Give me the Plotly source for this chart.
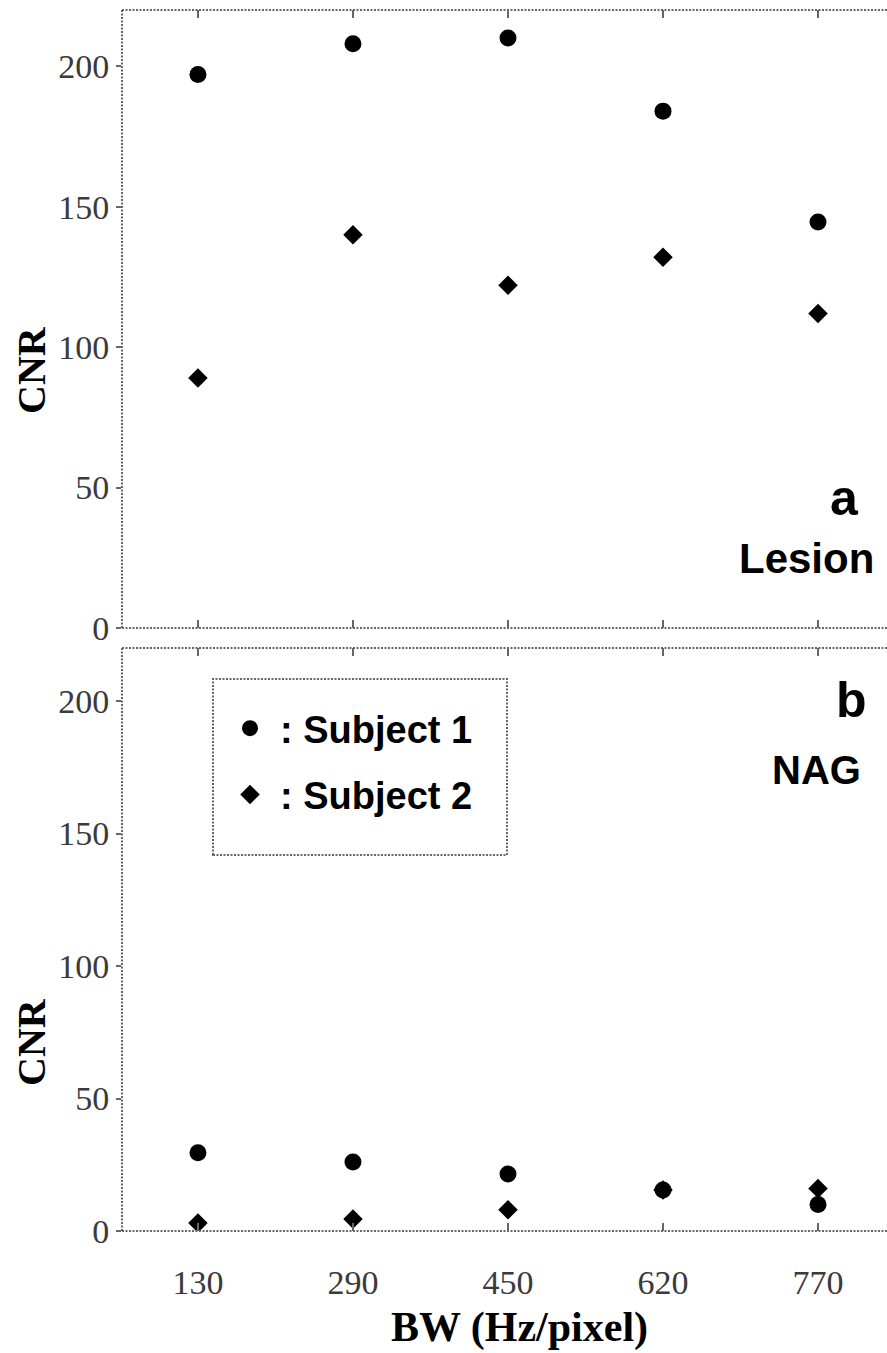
import plotly.graph_objects as go
from plotly.subplots import make_subplots

# ---- data ----
bw_labels = ["130", "290", "450", "620", "770"]
lesion_subject1 = [197, 208, 210, 184, 144.5]
lesion_subject2 = [89, 140, 122, 132, 112]
nag_subject1 = [29.5, 26, 21.5, 15.5, 10]
nag_subject2 = [3, 4.5, 8, 15.5, 16]
y_ticks = [0, 50, 100, 150, 200]

W, H = 887, 1353
ML, MR, MT, MB = 122, 0, 10, 122
PW = W - ML - MR
PH = H - MT - MB


def px(x):
    return (x - ML) / PW


def py(y):
    return (H - MB - y) / PH


top_dom = [py(628), 1.0]
bot_dom = [0.0, py(648)]

fig = make_subplots(rows=2, cols=1)

circle = dict(symbol="circle", size=17, color="black")
diamond = dict(symbol="diamond", size=15, color="black")

fig.add_trace(go.Scatter(x=bw_labels, y=lesion_subject1, mode="markers", marker=circle,
                         name=": Subject 1", legendgroup="s1", showlegend=False), row=1, col=1)
fig.add_trace(go.Scatter(x=bw_labels, y=lesion_subject2, mode="markers", marker=diamond,
                         name=": Subject 2", legendgroup="s2", showlegend=False), row=1, col=1)
fig.add_trace(go.Scatter(x=bw_labels, y=nag_subject1, mode="markers", marker=circle,
                         name=": Subject 1", legendgroup="s1", showlegend=True), row=2, col=1)
fig.add_trace(go.Scatter(x=bw_labels, y=nag_subject2, mode="markers", marker=diamond,
                         name=": Subject 2", legendgroup="s2", showlegend=True), row=2, col=1)

tick_font = dict(family="Liberation Serif", size=34, color="#3a3a3a")
xcommon = dict(type="category", range=[-0.49, 4.445], ticks="inside", ticklen=8,
               tickcolor="#666", tickwidth=1.5, showgrid=False, zeroline=False,
               showline=False, mirror="ticks", tickfont=tick_font)
ycommon = dict(range=[0, 220], tickvals=y_ticks, ticks="outside", ticklen=5,
               tickcolor="#666", tickwidth=1.5, showgrid=False, zeroline=False,
               showline=False, tickfont=tick_font)

fig.update_layout(
    xaxis=dict(xcommon, domain=[0, 1], showticklabels=False),
    xaxis2=dict(xcommon, domain=[0, 1], showticklabels=True, ticklabelstandoff=28),
    yaxis=dict(ycommon, domain=top_dom),
    yaxis2=dict(ycommon, domain=bot_dom),
)

# dotted axis frame lines
line_style = dict(color="#666", width=2, dash="2px,1.5px")
shapes = []
for xr, yr in (("x domain", "y domain"), ("x2 domain", "y2 domain")):
    shapes.append(dict(type="line", xref=xr, yref=yr, x0=0, x1=0, y0=0, y1=1, line=line_style))
    shapes.append(dict(type="line", xref=xr, yref=yr, x0=0, x1=1, y0=0, y1=0, line=line_style))
    shapes.append(dict(type="line", xref=xr, yref=yr, x0=0, x1=1, y0=1, y1=1, line=line_style))
# legend box
shapes.append(dict(type="rect", xref="paper", yref="paper", x0=px(213), x1=px(507),
                   y0=py(855), y1=py(679), line=line_style, fillcolor="rgba(0,0,0,0)"))

sans_bold = dict(family="Liberation Sans", color="black", weight="bold")
serif_bold = dict(family="Liberation Serif", color="black", weight="bold")

annotations = [
    dict(text="a", x=px(861), y=py(498), xanchor="right", yanchor="middle",
         font=dict(sans_bold, size=50)),
    dict(text="Lesion", x=px(876), y=py(558), xanchor="right", yanchor="middle",
         font=dict(sans_bold, size=42)),
    dict(text="b", x=px(869), y=py(700), xanchor="right", yanchor="middle",
         font=dict(sans_bold, size=50)),
    dict(text="NAG", x=px(863), y=py(770), xanchor="right", yanchor="middle",
         font=dict(sans_bold, size=40)),
    dict(text="CNR", x=px(31), y=py(370), xanchor="center", yanchor="middle", textangle=-90,
         font=dict(serif_bold, size=40)),
    dict(text="CNR", x=px(31), y=py(1042), xanchor="center", yanchor="middle", textangle=-90,
         font=dict(serif_bold, size=40)),
    dict(text="BW (Hz/pixel)", x=px(519), y=py(1327), xanchor="center", yanchor="middle",
         font=dict(serif_bold, size=42)),
]
for a in annotations:
    a.update(xref="paper", yref="paper", showarrow=False)

fig.update_layout(
    width=W, height=H,
    margin=dict(l=ML, r=MR, t=MT, b=MB),
    paper_bgcolor="white", plot_bgcolor="white",
    shapes=shapes, annotations=annotations,
    showlegend=True,
    legend=dict(x=px(220), y=py(697), xanchor="left", yanchor="top",
                bgcolor="rgba(0,0,0,0)", borderwidth=0, itemwidth=50,
                font=dict(family="Liberation Sans", size=38, color="black", weight="bold"),
                traceorder="grouped", tracegroupgap=14),
)

fig.write_html("out.html", config={"displayModeBar": False},
               post_script="document.body.style.margin='0';document.body.style.overflow='hidden';")
